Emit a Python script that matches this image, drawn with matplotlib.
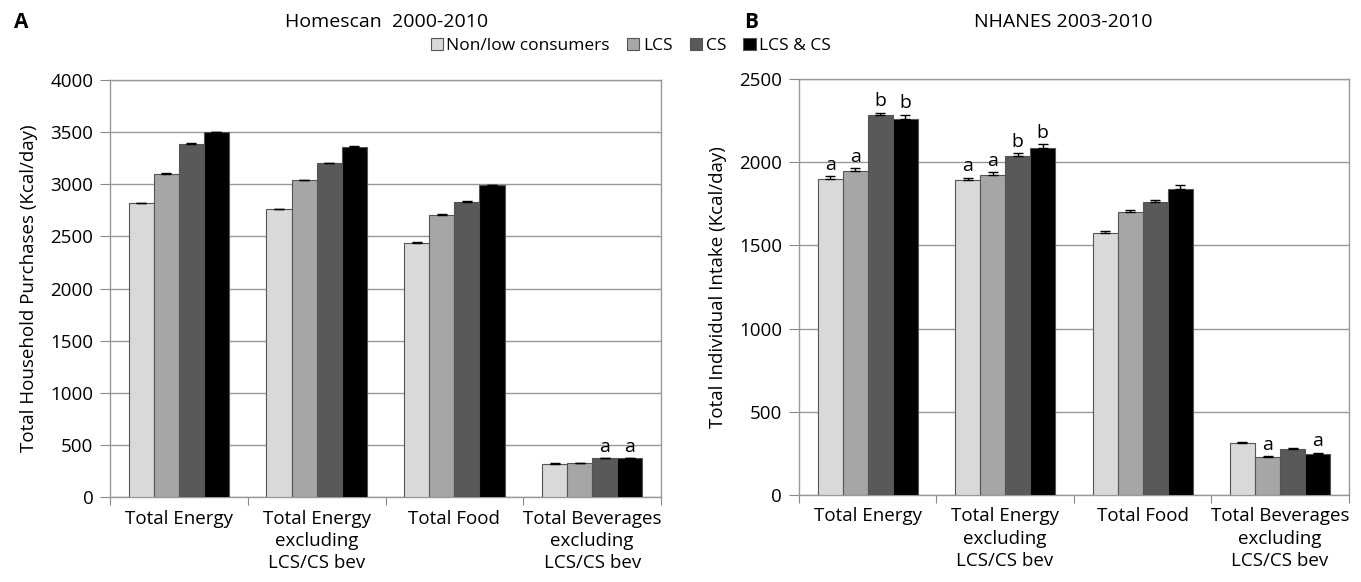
import numpy as np
import matplotlib.pyplot as plt

plt.rcParams['font.family'] = ['Open Sans', 'DejaVu Sans']

groups = ['Total Energy', 'Total Energy\nexcluding\nLCS/CS bev', 'Total Food',
          'Total Beverages\nexcluding\nLCS/CS bev']
series = ['Non/low consumers', 'LCS', 'CS', 'LCS & CS']
colors = ['#d9d9d9', '#a6a6a6', '#595959', '#000000']

# Homescan 2000-2010 household purchases (kcal/day)
hs_vals = [[2820, 2760, 2440, 320],
           [3100, 3040, 2710, 328],
           [3390, 3200, 2830, 372],
           [3500, 3360, 2990, 375]]
hs_err = [[5, 5, 5, 3],
          [5, 5, 5, 3],
          [6, 6, 5, 3],
          [6, 6, 5, 3]]
hs_letters = [['', '', '', ''],
              ['', '', '', ''],
              ['', '', '', 'a'],
              ['', '', '', 'a']]

# NHANES 2003-2010 individual intake (kcal/day)
nh_vals = [[1900, 1890, 1575, 312],
           [1945, 1925, 1700, 228],
           [2285, 2040, 1760, 276],
           [2260, 2085, 1840, 246]]
nh_err = [[15, 15, 10, 4],
          [18, 15, 15, 5],
          [12, 15, 12, 5],
          [25, 22, 20, 8]]
nh_letters = [['a', 'a', '', ''],
              ['a', 'a', '', 'a'],
              ['b', 'b', '', ''],
              ['b', 'b', '', 'a']]


def draw_panel(ax, vals, errs, letters, ymax, ystep, ylabel, pad):
    x = np.arange(len(groups))
    w = 0.182
    for i in range(len(series)):
        pos = x + (i - 1.5) * w
        ax.bar(pos, vals[i], w, color=colors[i], edgecolor='#555555',
               linewidth=0.8, zorder=3, label=series[i])
        ax.errorbar(pos, vals[i], yerr=[np.zeros(len(groups)), errs[i]],
                    fmt='none', ecolor='black', elinewidth=1, capsize=3.5,
                    capthick=1, zorder=4)
        for p, v, e, t in zip(pos, vals[i], errs[i], letters[i]):
            if t:
                ax.text(p, v + e + pad, t, ha='center', va='bottom', fontsize=14)
    ax.set_xlim(-0.5, len(groups) - 0.5)
    ax.set_ylim(0, ymax)
    ax.set_yticks(np.arange(0, ymax + 1, ystep))
    ax.set_xticks(np.arange(len(groups) + 1) - 0.5, minor=False)
    ax.set_xticklabels([])
    ax.set_xticks(x, minor=True)
    ax.set_xticklabels(groups, minor=True, fontsize=13.5, linespacing=1.3)
    ax.tick_params(axis='x', which='minor', length=0, pad=9)
    ax.tick_params(axis='x', which='major', length=6, color='#888888')
    ax.tick_params(axis='y', length=7, color='#888888', labelsize=13.5, pad=5)
    ax.yaxis.grid(True, color='#999999', linewidth=1, zorder=0)
    ax.set_axisbelow(True)
    for s in ax.spines.values():
        s.set_color('#999999')
        s.set_linewidth(1)
    ax.set_ylabel(ylabel, fontsize=13.5, labelpad=9)


fig = plt.figure(figsize=(13.61, 5.82), dpi=100)
ax1 = fig.add_axes([0.0808, 0.146, 0.4049, 0.7165])
ax2 = fig.add_axes([0.587, 0.1495, 0.404, 0.7148])

draw_panel(ax1, hs_vals, hs_err, hs_letters, 4000, 500,
           'Total Household Purchases (Kcal/day)', 15)
draw_panel(ax2, nh_vals, nh_err, nh_letters, 2500, 500,
           'Total Individual Intake (Kcal/day)', 15)

fig.text(0.284, 0.962, 'Homescan  2000-2010', ha='center', va='center', fontsize=14)
fig.text(0.781, 0.962, 'NHANES 2003-2010', ha='center', va='center', fontsize=14)
fig.text(0.010, 0.962, 'A', ha='left', va='center', fontsize=15, fontweight='bold')
fig.text(0.547, 0.962, 'B', ha='left', va='center', fontsize=15, fontweight='bold')

handles, labels = ax1.get_legend_handles_labels()
fig.legend(handles, labels, loc='center', bbox_to_anchor=(0.4635, 0.921), ncol=4,
           frameon=False, fontsize=12.5, handlelength=0.7, handleheight=0.7,
           handletextpad=0.2, columnspacing=1.0)

fig.savefig('out.png', dpi=100, facecolor='white')
